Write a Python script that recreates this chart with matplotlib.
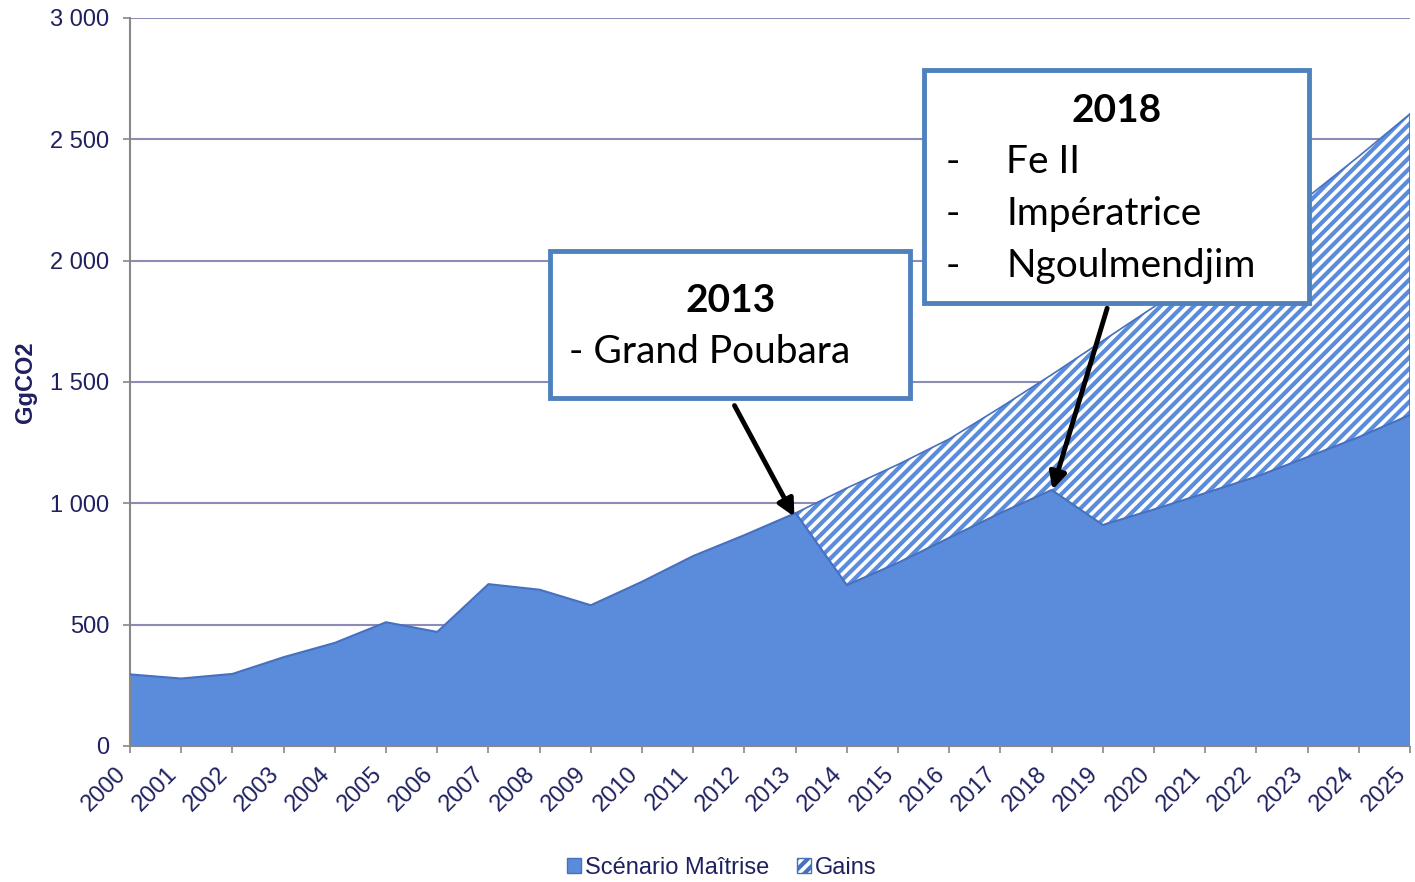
import numpy as np
import matplotlib
matplotlib.use("Agg")
import matplotlib.pyplot as plt
from matplotlib.patches import Patch, Rectangle

# data (GgCO2)
years = list(range(2000, 2026))
maitrise = [295, 278, 297, 366, 425, 510, 470, 667, 644, 580, 677, 783, 869, 960,
            663, 755, 858, 960, 1055, 911, 975, 1042, 1110, 1191, 1273, 1364]
ref_years = list(range(2013, 2026))
tendanciel = [960, 1063, 1160, 1265, 1395, 1530, 1670, 1810, 1955, 2105, 2262, 2430, 2605]
ytick_vals = [0, 500, 1000, 1500, 2000, 2500, 3000]
ytick_labels = ["0", "500", "1 000", "1 500", "2 000", "2 500", "3 000"]

navy = "#1E2060"
fill_col = "#5B8CDB"
edge_col = "#4670C0"
grid_col = "#8C8CB8"

plt.rcParams["hatch.linewidth"] = 3.0
plt.rcParams["hatch.color"] = fill_col
plt.rcParams["font.family"] = ["Liberation Sans", "DejaVu Sans"]

fig = plt.figure(figsize=(14.15, 8.82), dpi=100)
ax = fig.add_axes([0.0919, 0.1542, 0.9046, 0.8254])

ax.fill_between(years, 0, maitrise, facecolor=fill_col, edgecolor="none", zorder=2)
ax.plot(years, maitrise, color=edge_col, lw=1.5, zorder=3)
maitrise_tail = maitrise[years.index(2013):]
gains = ax.fill_between(ref_years, maitrise_tail, tendanciel, facecolor="white",
                        edgecolor=fill_col, hatch="///", linewidth=0, zorder=2)
if hasattr(gains, "set_hatch_linewidth"):
    gains.set_hatch_linewidth(3.0)
ax.plot(ref_years, tendanciel, color=edge_col, lw=1.2, zorder=3)
ax.plot([2025, 2025], [maitrise[-1], tendanciel[-1]], color=edge_col, lw=1.2, zorder=3)

ax.set_xlim(2000, 2025)
ax.set_ylim(0, 3000)
ax.set_yticks(ytick_vals)
ax.set_yticklabels(ytick_labels)
ax.set_xticks(years)
ax.set_xticklabels([str(y) for y in years], rotation=45, ha="right", va="top")
ax.tick_params(axis="both", colors="#888888", labelcolor=navy, labelsize=17,
               direction="out", length=5, width=1.2)
ax.tick_params(axis="x", pad=7)
ax.tick_params(axis="y", pad=10)
ax.yaxis.grid(True, color=grid_col, lw=1.5, zorder=1)
ax.set_axisbelow(True)
for s in ["top", "right"]:
    ax.spines[s].set_visible(False)
ax.spines["left"].set_color("#888888")
ax.spines["bottom"].set_color("#888888")
ax.spines["left"].set_linewidth(1.5)
ax.set_ylabel("GgCO2", color=navy, fontsize=17, fontweight="bold")
ax.yaxis.set_label_coords(-0.073, 0.5)

# annotation arrows
ax.annotate("", xy=(2013, 935), xytext=(2011.78, 1413),
            arrowprops=dict(arrowstyle="-|>", color="black", lw=3.5,
                            mutation_scale=25), zorder=6)
ax.annotate("", xy=(2018, 1045), xytext=(2019.1, 1815),
            arrowprops=dict(arrowstyle="-|>", color="black", lw=3.5,
                            mutation_scale=25), zorder=6)

# annotation boxes
box_font = ["Lato", "DejaVu Sans"]
fig.patches.append(Rectangle((0.389, 0.5488), 0.254, 0.1666, transform=fig.transFigure,
                             facecolor="white", edgecolor="#4F81BD", lw=3.5, zorder=5))
fig.text(0.516, 0.659, "2013", ha="center", va="center", fontsize=28,
         fontweight="bold", family=box_font, zorder=7)
fig.text(0.402, 0.601, "- Grand Poubara", ha="left", va="center", fontsize=28,
         family=box_font, zorder=7)

fig.patches.append(Rectangle((0.653, 0.6565), 0.272, 0.2641, transform=fig.transFigure,
                             facecolor="white", edgecolor="#4F81BD", lw=3.5, zorder=5))
fig.text(0.789, 0.875, "2018", ha="center", va="center", fontsize=28,
         fontweight="bold", family=box_font, zorder=7)
for i, name in enumerate(["Fe II", "Impératrice", "Ngoulmendjim"]):
    yy = 1 - (162 + 52 * i) / 882
    fig.text(0.668, yy, "-", ha="left", va="center", fontsize=28, family=box_font, zorder=7)
    fig.text(0.711, yy, name, ha="left", va="center", fontsize=28, family=box_font, zorder=7)

handles = [Patch(facecolor=fill_col, edgecolor=edge_col, label="Scénario Maîtrise"),
           Patch(facecolor="white", edgecolor=edge_col, hatch="///", label="Gains")]
leg = fig.legend(handles=handles, loc="center", bbox_to_anchor=(0.51, 0.016), ncol=2,
                 frameon=False, fontsize=17, handlelength=0.6, handleheight=0.6,
                 handletextpad=0.15, columnspacing=1.2, borderpad=0)
for t in leg.get_texts():
    t.set_color(navy)

fig.savefig("out.png", dpi=100)
